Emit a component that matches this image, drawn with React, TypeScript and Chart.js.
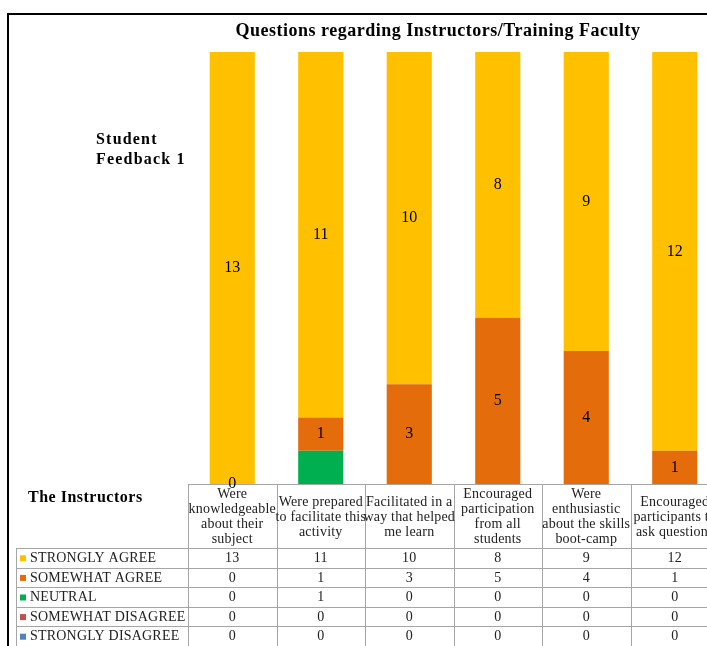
import React, { useEffect, useRef } from "react";
import { Chart, registerables } from "chart.js";
Chart.register(...registerables);

const FONT = '"Liberation Serif", "Times New Roman", serif';

const categories: string[][] = [
  ["Were", "knowledgeable", "about their", "subject"],
  ["Were prepared", "to facilitate this", "activity"],
  ["Facilitated in a", "way that helped", "me learn"],
  ["Encouraged", "participation", "from all", "students"],
  ["Were", "enthusiastic", "about the skills", "boot-camp"],
  ["Encouraged", "participants to", "ask questions"],
];

const stronglyAgree = [13, 11, 10, 8, 9, 12];
const somewhatAgree = [0, 1, 3, 5, 4, 1];
const neutral = [0, 1, 0, 0, 0, 0];
const somewhatDisagree = [0, 0, 0, 0, 0, 0];
const stronglyDisagree = [0, 0, 0, 0, 0, 0];

const seriesNames = ["STRONGLY AGREE", "SOMEWHAT AGREE", "NEUTRAL", "SOMEWHAT DISAGREE", "STRONGLY DISAGREE"];
const seriesColors = ["#FFC000", "#E46C0A", "#00B050", "#C0504D", "#4F81BD"];
const seriesValues = [stronglyAgree, somewhatAgree, neutral, somewhatDisagree, stronglyDisagree];
const labelledSeries = ["STRONGLY AGREE", "SOMEWHAT AGREE"];

const chartTitle = "Questions regarding Instructors/Training Faculty";
const sideTitle = ["Student", "Feedback 1"];
const tableTitle = "The Instructors";

export default function App() {
  const ref = useRef<HTMLCanvasElement>(null);
  useEffect(() => {
    const canvas = ref.current!;
    const drawPlugin = {
      id: "tableDraw",
      afterDraw(chart: any) {
        const ctx = chart.ctx as any;
        const area = chart.chartArea;
        const n = categories.length;
        const colW = (area.right - area.left) / n;
        const top = area.bottom;
        const headerBottom = top + 64;
        const rowH = 19.6;
        const H = chart.height;
        const W = chart.width;
        ctx.save();
        // outer border
        ctx.strokeStyle = "#000";
        ctx.lineWidth = 2;
        ctx.strokeRect(8, 14, 900, 900);

        // table grid
        ctx.strokeStyle = "#a6a6a6";
        ctx.lineWidth = 1;
        ctx.beginPath();
        for (let i = 0; i <= n; i++) {
          const x = Math.round(area.left + i * colW) + 0.5;
          ctx.moveTo(x, top + 0.5);
          ctx.lineTo(x, H);
        }
        ctx.moveTo(area.left, Math.round(top) + 0.5);
        ctx.lineTo(W, Math.round(top) + 0.5);
        for (let k = 0; k <= seriesNames.length; k++) {
          const y = Math.round(headerBottom + k * rowH) + 0.5;
          ctx.moveTo(16, y);
          ctx.lineTo(W, y);
        }
        ctx.moveTo(16.5, Math.round(headerBottom));
        ctx.lineTo(16.5, H);
        ctx.stroke();

        // header text
        ctx.fillStyle = "#222";
        ctx.font = `14px ${FONT}`;
        ctx.letterSpacing = "0.2px";
        ctx.textAlign = "center";
        ctx.textBaseline = "middle";
        const lh = 15;
        categories.forEach((lines, i) => {
          const cx = area.left + (i + 0.5) * colW;
          const cy = (top + headerBottom) / 2 + 1;
          const y0 = cy - ((lines.length - 1) * lh) / 2;
          lines.forEach((t, j) => ctx.fillText(t, cx, y0 + j * lh));
        });

        // rows
        seriesNames.forEach((name, k) => {
          const cy = headerBottom + (k + 0.5) * rowH + 0.5;
          ctx.fillStyle = seriesColors[k];
          ctx.fillRect(20, cy - 3, 6, 6);
          ctx.fillStyle = "#222";
          ctx.textAlign = "left";
          ctx.fillText(name, 30, cy);
          ctx.textAlign = "center";
          seriesValues[k].forEach((v, i) => {
            ctx.fillText(String(v), area.left + (i + 0.5) * colW, cy);
          });
        });

        // titles
        ctx.fillStyle = "#000";
        ctx.font = `bold 18px ${FONT}`;
        ctx.letterSpacing = "0.5px";
        ctx.textAlign = "center";
        ctx.fillText(chartTitle, 438, 31);
        ctx.font = `bold 16px ${FONT}`;
        ctx.letterSpacing = "1.2px";
        ctx.textAlign = "left";
        ctx.fillText(sideTitle[0], 96, 140);
        ctx.fillText(sideTitle[1], 96, 160);
        ctx.letterSpacing = "0.5px";
        ctx.fillText(tableTitle, 28, 498);

        // data labels
        ctx.font = `16px ${FONT}`;
        ctx.letterSpacing = "0px";
        ctx.textAlign = "center";
        ctx.fillStyle = "#000";
        chart.data.datasets.forEach((ds: any, di: number) => {
          if (!labelledSeries.includes(ds.label)) return;
          const meta = chart.getDatasetMeta(di);
          meta.data.forEach((el: any, i: number) => {
            const v = ds.data[i];
            ctx.fillText(String(v), el.x, (el.y + el.base) / 2);
          });
        });
        ctx.restore();
      },
    };

    const order = [4, 3, 2, 1, 0];
    const chart = new Chart(canvas, {
      type: "bar",
      data: {
        labels: categories,
        datasets: order.map((k) => ({
          label: seriesNames[k],
          data: seriesValues[k],
          backgroundColor: seriesColors[k],
          borderWidth: 0,
          categoryPercentage: 1,
          barPercentage: 0.51,
        })),
      },
      options: {
        responsive: false,
        animation: false,
        devicePixelRatio: 1,
        layout: { padding: { left: 188, right: 21, top: 52, bottom: 176 } },
        plugins: {
          legend: { display: false },
          tooltip: { enabled: false },
          title: { display: false },
        },
        scales: {
          x: { stacked: true, display: false },
          y: { stacked: true, display: false, min: 0, max: 13 },
        },
      },
      plugins: [drawPlugin],
    });
    return () => chart.destroy();
  }, []);
  return (
    <div
      style={{
        position: "fixed",
        left: 0,
        top: 0,
        width: 707,
        height: 646,
        overflow: "hidden",
        background: "#fff",
      }}
    >
      <canvas ref={ref} width={740} height={660} style={{ display: "block" }} />
    </div>
  );
}
